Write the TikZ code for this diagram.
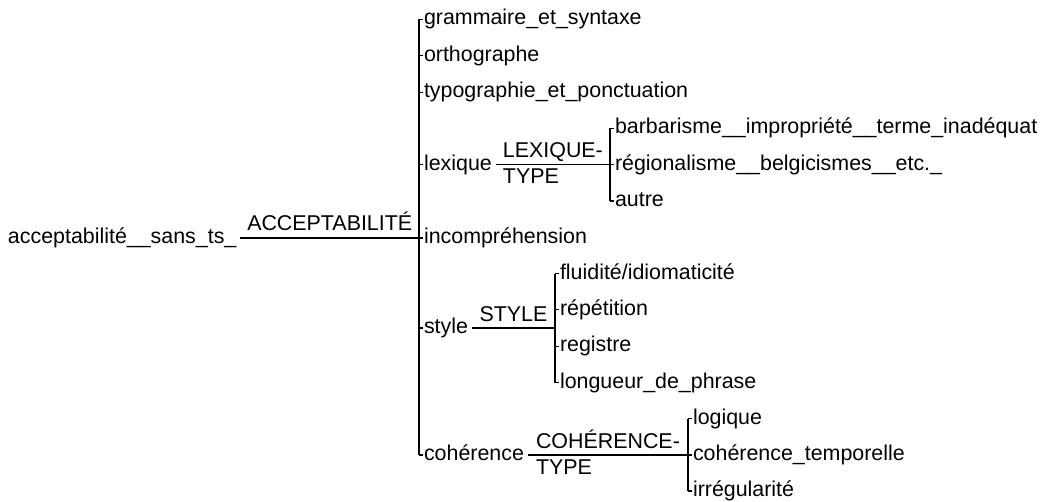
\documentclass[tikz,border=0pt]{standalone}
\usepackage{fontspec}
\setmainfont{Liberation Sans}
\begin{document}
\begin{tikzpicture}[x=1pt,y=-1pt,
  every node/.style={font=\fontsize{21.4}{26}\selectfont, inner sep=1.5pt, outer sep=0pt, text=black},
  item/.style={anchor=west, text height=16pt, text depth=5pt},
  lab/.style={midway, anchor=base, yshift=7pt},
  conn/.style={draw=black, line width=1.1pt}]
\fill[white] (0,0) rectangle (1043,502);
\useasboundingbox (0,0) rectangle (1043,502);

% root
\node[item] (root) at (6.5,238) {acceptabilité\_\_sans\_ts\_};

% first level
\node[item] (gram) at (422.5,19.5) {grammaire\_et\_syntaxe};
\node[item] (orth) at (422.5,55.8) {orthographe};
\node[item] (typo) at (422.5,92.1) {typographie\_et\_ponctuation};
\node[item] (lex)  at (422.5,164.7) {lexique};
\node[item] (inc)  at (422.5,238) {incompréhension};
\node[item] (sty)  at (422.5,328) {style};
\node[item] (coh)  at (422.5,455) {cohérence};

% lexique children
\node[item] (barb)  at (613.5,128.4) {barbarisme\_\_impropriété\_\_terme\_inadéquat};
\node[item] (regl)  at (613.5,164.7) {régionalisme\_\_belgicismes\_\_etc.\_};
\node[item] (autre) at (613.5,201) {autre};

% style children
\node[item] (flu)  at (558.5,273.6) {fluidité/idiomaticité};
\node[item] (rep)  at (558.5,309.9) {répétition};
\node[item] (regi) at (558.5,346.2) {registre};
\node[item] (lon)  at (558.5,382.5) {longueur\_de\_phrase};

% coherence children
\node[item] (log) at (691.5,418.8) {logique};
\node[item] (tem) at (691.5,455) {cohérence\_temporelle};
\node[item] (irr) at (691.5,491) {irrégularité};

% trunk joins
\coordinate (T)  at (419,238);
\coordinate (LT) at (610,164.7);
\coordinate (ST) at (555,328);
\coordinate (CT) at (688,455);

% root edge
\draw[conn] ([xshift=2.5pt]root.east) -- (T) node[lab] (acclab) {ACCEPTABILITÉ};
\draw[conn] (T |- gram.west) -- (T |- coh.west);
\foreach \c in {gram,orth,typo,lex,inc,sty,coh}
  \draw[conn] (T |- \c.west) -- (\c.west);

% lexique
\draw[conn] ([xshift=2.5pt]lex.east) -- (LT) node[lab] (lexlab) {\begin{tabular}[t]{@{}l@{}}LEXIQUE-\\TYPE\end{tabular}};
\draw[conn] (LT |- barb.west) -- (LT |- autre.west);
\foreach \c in {barb,regl,autre}
  \draw[conn] (LT |- \c.west) -- (\c.west);

% style
\draw[conn] ([xshift=2.5pt]sty.east) -- (ST) node[lab] (stylab) {STYLE};
\draw[conn] (ST |- flu.west) -- (ST |- lon.west);
\foreach \c in {flu,rep,regi,lon}
  \draw[conn] (ST |- \c.west) -- (\c.west);

% coherence
\draw[conn] ([xshift=2.5pt]coh.east) -- (CT) node[lab] (cohlab) {\begin{tabular}[t]{@{}l@{}}COHÉRENCE-\\TYPE\end{tabular}};
\draw[conn] (CT |- log.west) -- (CT |- irr.west);
\foreach \c in {log,tem,irr}
  \draw[conn] (CT |- \c.west) -- (\c.west);
\end{tikzpicture}
\end{document}
